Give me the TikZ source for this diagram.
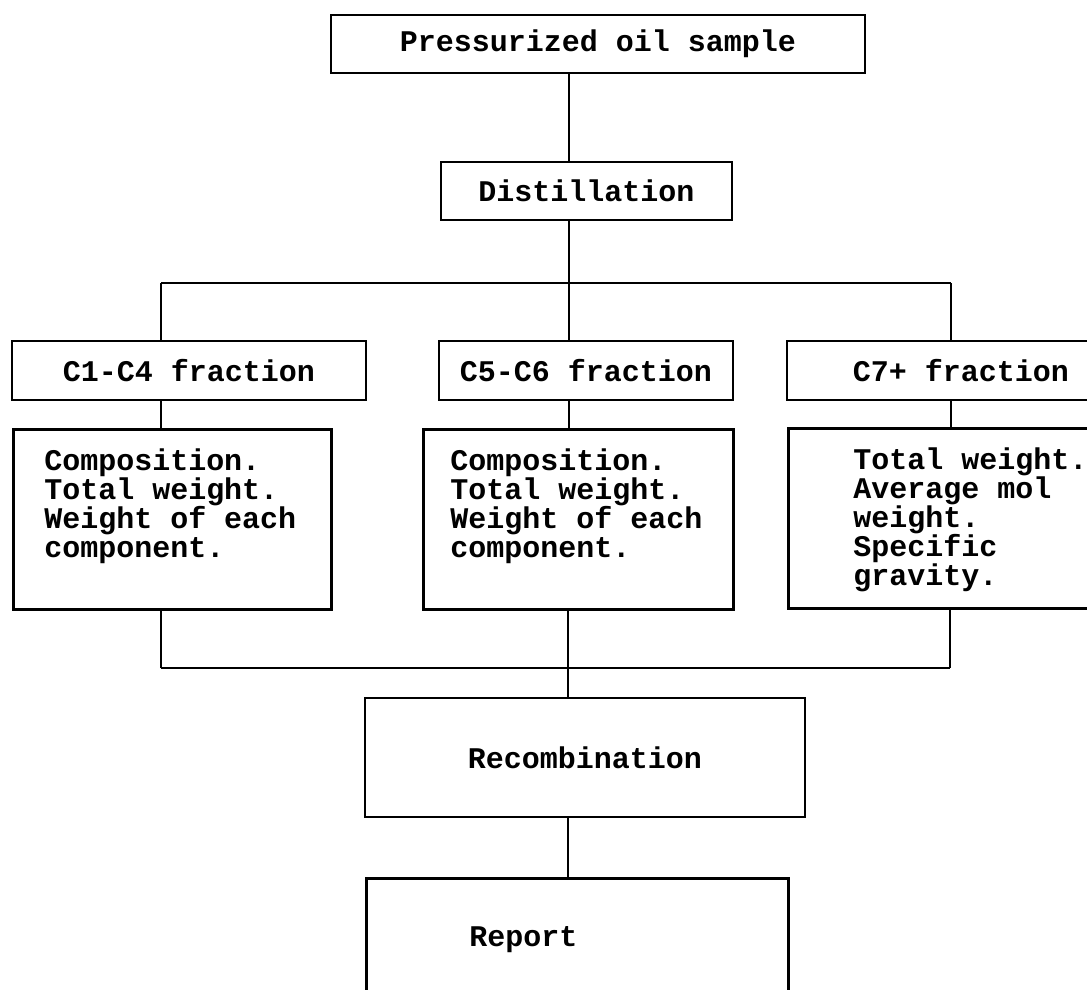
\documentclass[tikz,border=0pt]{standalone}
\usepackage{fontspec}
\setmainfont{Liberation Mono}[WordSpace={1,0,0}]
\usepackage{tikz}
\usetikzlibrary{positioning}

\begin{document}
\begin{tikzpicture}[x=1pt,y=-1pt,line width=2.5pt,
box/.style={draw,rectangle,inner sep=0pt,font=\fontsize{30}{29}\selectfont\bfseries},
detail/.style={box,anchor=north west,align=flush left,inner ysep=10pt,
    text height=31pt,text depth=129pt}]
\useasboundingbox (0,0) rectangle (1087,990);
\node (sample) [box,minimum width=534pt,minimum height=58pt] at (598,44) {Pressurized oil sample};
\node (distil) [box,minimum width=291pt,minimum height=58pt] at (586.5,191) {Distillation};
\node (cfour) [box,minimum width=354pt,minimum height=59pt] at (189,370.5) {C1-C4 fraction};
\node (csix) [box,minimum width=294pt,minimum height=59pt] at (586,370.5) {C5-C6 fraction};
\node (cseven) [box,minimum width=348pt,minimum height=59pt] at (961,370.5) {C7+ fraction};
\node (dfour) [detail,inner xsep=31pt,text width=256pt] at (12,428)
    {Composition.\\Total weight.\\Weight of each\\component.};
\node (dsix) [detail,inner xsep=27pt,text width=256pt] at (422,428)
    {Composition.\\Total weight.\\Weight of each\\component.};
\node (dseven) [detail,inner xsep=65pt,text width=283pt,
    font=\fontsize{30}{25}\selectfont\bfseries] at (787,427)
    {Total weight.\\Average mol\\weight.\\Specific\\gravity.};
\node (recomb) [box,minimum width=440pt,minimum height=119pt] at (585,757.5) {Recombination};
\node (report) [box,anchor=north west,align=flush left,inner xsep=103pt,text width=216pt,
    minimum height=123pt] at (365,877) {Report};

\coordinate (ltop) at (161,283);
\coordinate (mtop) at (569,283);
\coordinate (rtop) at (951,283);
\coordinate (lbot) at (161,668);
\coordinate (mbot) at (568,668);
\coordinate (rbot) at (950,668);

\draw (sample.south -| mtop) -- (distil.north -| mtop);
\draw (distil.south -| mtop) -- (mtop);
\draw (ltop) -- (rtop);
\draw (ltop) -- (cfour.north -| ltop);
\draw (mtop) -- (csix.north -| mtop);
\draw (rtop) -- (cseven.north -| rtop);
\draw (cfour.south -| ltop) -- (dfour.north -| ltop);
\draw (csix.south -| mtop) -- (dsix.north -| mtop);
\draw (cseven.south -| rtop) -- (dseven.north -| rtop);
\draw (dfour.south -| lbot) -- (lbot);
\draw (dsix.south -| mbot) -- (mbot);
\draw (dseven.south -| rbot) -- (rbot);
\draw (lbot) -- (rbot);
\draw (mbot) -- (recomb.north -| mbot);
\draw (recomb.south -| mbot) -- (report.north -| mbot);
\end{tikzpicture}
\end{document}
